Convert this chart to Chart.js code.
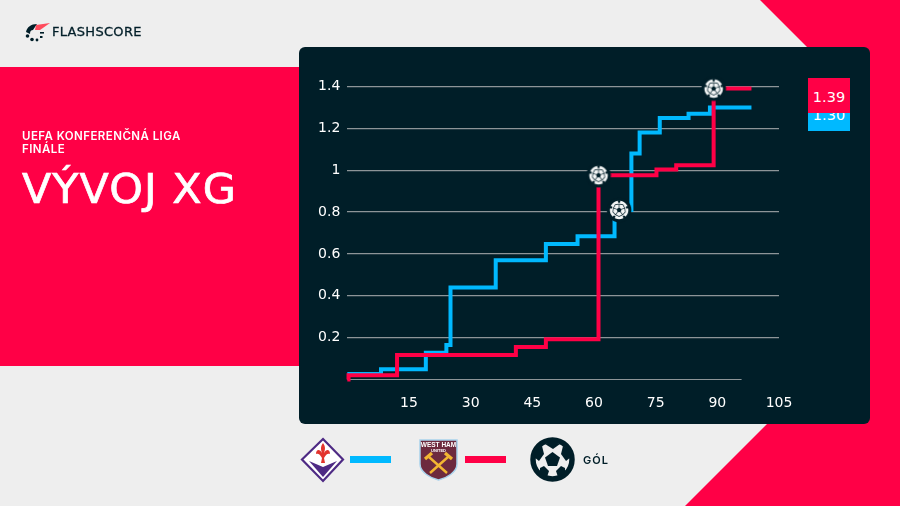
<!DOCTYPE html>
<html><head><meta charset="utf-8">
<script src="https://cdn.jsdelivr.net/npm/chart.js@4"></script>
<style>
html,body{margin:0;padding:0;background:#eeeeee;width:900px;height:506px;overflow:hidden}
.abs{position:absolute}
</style></head><body>
<svg class="abs" style="left:0;top:0" width="900" height="506">
<rect width="900" height="506" fill="#eeeeee"/>
<polygon points="760,0 900,0 900,506 685,506 780,411 807,47" fill="#ff0046"/>
<rect x="0" y="67" width="300" height="299" fill="#ff0046"/>
<rect x="299" y="47" width="571" height="377" rx="6" fill="#001e28"/>
</svg>
<canvas id="c" class="abs" width="900" height="506" style="left:0;top:0;width:900px;height:506px"></canvas>
<script>
const xTicks = [15,30,45,60,75,90,105];
const yTicks = [0,0.2,0.4,0.6,0.8,1,1.2,1.4];
const blueMinutes = [0,8.2,19.1,24.1,25.1,36.1,48.3,56,65,69.1,71.1,76,83,88.2,98.3];
const blueValues = [0.026,0.049,0.128,0.165,0.44,0.57,0.647,0.685,0.81,1.08,1.18,1.25,1.27,1.30,1.30];
const redMinutes = [0,0.3,12.1,41,48.3,61.1,75.2,80,89.1,98.3];
const redValues = [0,0.02,0.117,0.155,0.192,0.976,1.003,1.024,1.39,1.39];
const goalMinutes = [61.1,66.1,89.1];
const goalValues = [0.976,0.81,1.39];
const baseMinutes = [0,95.9];
const baseValues = [0,0];
const zip=(a,b)=>a.map((x,i)=>({x,y:b[i]}));
const BLUE='#00b9ff',RED='#ff0046',GRID='#8d9598',DARK='#001e28';
function ball(){
 const k=2,s=26*k,c=document.createElement('canvas');c.width=c.height=s;c.style.width=c.style.height='26px';
 const g=c.getContext('2d'),m=13;g.scale(k,k);
 g.fillStyle=DARK;g.beginPath();g.arc(m,m,12.3,0,7);g.fill();
 g.fillStyle='#f4f6f6';g.beginPath();g.arc(m,m,9.6,0,7);g.fill();
 g.fillStyle=DARK;
 const pent=(cx,cy,r,rot)=>{g.beginPath();for(let i=0;i<5;i++){const a=rot+i*2*Math.PI/5;g[i?'lineTo':'moveTo'](cx+r*Math.cos(a),cy+r*Math.sin(a));}g.closePath();g.fill();};
 pent(m,m,2.6,-Math.PI/2);
 g.strokeStyle=DARK;g.lineWidth=.7;
 for(let i=0;i<5;i++){const a=-Math.PI/2+i*2*Math.PI/5;
  pent(m+8.4*Math.cos(a),m+8.4*Math.sin(a),1.4,a);
  g.beginPath();g.moveTo(m+2.6*Math.cos(a),m+2.6*Math.sin(a));g.lineTo(m+6*Math.cos(a),m+6*Math.sin(a));g.stroke();
  const a2=a+Math.PI*2/5;
  g.beginPath();g.moveTo(m+6*Math.cos(a),m+6*Math.sin(a));g.lineTo(m+6.5*Math.cos(a+Math.PI/5),m+6.5*Math.sin(a+Math.PI/5));g.lineTo(m+6*Math.cos(a2),m+6*Math.sin(a2));g.stroke();
 }
 g.beginPath();g.arc(m,m,9.6,0,7);g.stroke();
 return c;
}
const bi=ball();
const img=new Image();img.width=26;img.height=26;img.src=bi.toDataURL();
function draw(){
new Chart(document.getElementById('c'),{
 type:'line',
 data:{datasets:[
  {label:'Gól',data:zip(goalMinutes,goalValues),showLine:false,pointStyle:img,clip:false},
  {label:'West Ham',data:zip(redMinutes,redValues),stepped:true,borderColor:RED,borderWidth:4,pointRadius:0,clip:false,borderCapStyle:'butt',borderJoinStyle:'miter'},
  {label:'Fiorentina',data:zip(blueMinutes,blueValues),stepped:true,borderColor:BLUE,borderWidth:4,pointRadius:0,clip:false,borderJoinStyle:'miter'},
  {label:'base',data:zip(baseMinutes,baseValues),borderColor:GRID,borderWidth:1,pointRadius:0,clip:false}
 ]},
 options:{
  responsive:false,animation:false,devicePixelRatio:1,
  layout:{padding:{left:299,top:86.5,right:121,bottom:0}},
  plugins:{legend:{display:false},tooltip:{enabled:false}},
  scales:{
   x:{type:'linear',min:0,max:105,afterBuildTicks:s=>{s.ticks=xTicks.map(v=>({value:v}));},
     afterFit:s=>{s.height=126.5;},
     grid:{display:false},border:{display:false},
     ticks:{color:'#fff',padding:7,maxRotation:0,autoSkip:false,font:{family:'"DejaVu Sans"',size:14},callback:v=>String(v)}},
   y:{min:0,max:1.4,afterBuildTicks:s=>{s.ticks=yTicks.map(v=>({value:v}));},
     afterFit:s=>{s.width=48.3;},
     grid:{color:c=>c.tick.value===0?'transparent':GRID,lineWidth:1.3,drawTicks:false},border:{display:false},
     ticks:{color:'#fff',padding:7,autoSkip:false,font:{family:'"DejaVu Sans"',size:14},callback:v=>v===0?'':String(v)}}
  }
 }
});
}
img.onload=draw;
</script>
<div class="abs" style="left:808px;top:78px;width:42px;height:53px;background:#00b9ff;overflow:hidden;color:#fff;font:14.5px 'DejaVu Sans';text-align:center">
 <div class="abs" style="left:0;top:29px;width:42px">1.30</div>
 <div class="abs" style="left:0;top:0;width:42px;height:35px;background:#ff0046;line-height:38px">1.39</div>
</div>
<div class="abs" style="left:22px;top:130px;color:#fff;font:600 11.5px/12.5px 'Inter';letter-spacing:.45px">UEFA KONFERENČNÁ LIGA<br>FINÁLE</div>
<div class="abs" style="left:22px;top:160px;color:#fff;font:400 40px/58px 'DejaVu Sans';letter-spacing:1px;white-space:nowrap;transform:scaleX(1.07);transform-origin:left;-webkit-text-stroke:.7px #fff">VÝVOJ XG</div>
<svg class="abs" style="left:25px;top:22px" width="26" height="20" viewBox="0 0 26 20">
 <path d="M1 10C2 5 6 2 12 2L8 8C6 8 5 9 5 12Z" fill="#001e28"/><path d="M11 3L25 1 15 8 10 8Z" fill="#ff4b5c"/>
 <circle cx="2.5" cy="14" r="1.8" fill="#001e28"/><circle cx="7" cy="17.5" r="1.8" fill="#001e28"/><circle cx="12" cy="18" r="1.4" fill="#001e28"/><rect x="15" y="10" width="4" height="1.6" fill="#001e28"/><rect x="15" y="14" width="2.5" height="2" fill="#001e28"/>
</svg>
<div class="abs" style="left:52px;top:24px;color:#001e28;font:500 13px/16px 'DejaVu Sans';letter-spacing:.3px;-webkit-text-stroke:.3px #001e28">FLASHSCORE</div>
<svg class="abs" style="left:300px;top:436px" width="46" height="48" viewBox="0 0 46 48">
 <polygon points="23,3 43,23.5 23,45 2,23.5" fill="#fff" stroke="#4e2a84" stroke-width="2.2"/>
 <polygon points="9,25 23,31 37,25 23,41" fill="#4e2a84"/>
 <path d="M23 7C26 11 25 14 24 17 26 13 30 13 30 18 28 17 26 18 24 22L25 27H21L22 22C20 18 18 17 16 18 16 13 20 13 22 17 21 14 20 11 23 7Z" fill="#e2342d"/>
</svg>
<div class="abs" style="left:350px;top:456px;width:41px;height:7px;background:#00b9ff"></div>
<svg class="abs" style="left:418px;top:438px" width="41" height="44" viewBox="0 0 41 44">
 <path d="M2 2H39V26C39 34 29 40 20.5 42 12 40 2 34 2 26Z" fill="#6d2a3e" stroke="#a8d2ec" stroke-width="1.5"/>
 <text x="20.5" y="9" text-anchor="middle" font-family="Liberation Sans" font-weight="700" font-size="6.5" fill="#fff">WEST HAM</text>
 <text x="20.5" y="14" text-anchor="middle" font-family="Liberation Sans" font-weight="700" font-size="4" fill="#fff">UNITED</text>
 <path d="M11 19L29 35M30 19L12 35" stroke="#f2b632" stroke-width="2.4"/><path d="M7 21L14 15M34 21L27 15" stroke="#f2b632" stroke-width="3.2"/>
</svg>
<div class="abs" style="left:465px;top:456px;width:41px;height:7px;background:#ff0046"></div>
<svg class="abs" style="left:530px;top:437px" width="46" height="46" viewBox="0 0 46 46">
 <circle cx="22.5" cy="22.5" r="19.5" fill="#eeeeee" stroke="#001e28" stroke-width="5.5"/>
 <polygon points="22.5,15 30,20.5 27,29 18,29 15,20.5" fill="#001e28"/>
 <polygon points="22.5,4 30,7 23,12 15,7" fill="#001e28"/><polygon points="7,13 12,9 14,17 9,24 4,20" fill="#001e28"/>
 <polygon points="38,13 33,9 31,17 36,24 41,20" fill="#001e28"/><polygon points="10,31 14,29 19,34 17,40 10,36" fill="#001e28"/>
 <polygon points="35,31 31,29 26,34 28,40 35,36" fill="#001e28"/>
</svg>
<div class="abs" style="left:583px;top:453px;color:#001e28;font:600 11px/14px 'Inter';letter-spacing:1px">GÓL</div>
</body></html>
